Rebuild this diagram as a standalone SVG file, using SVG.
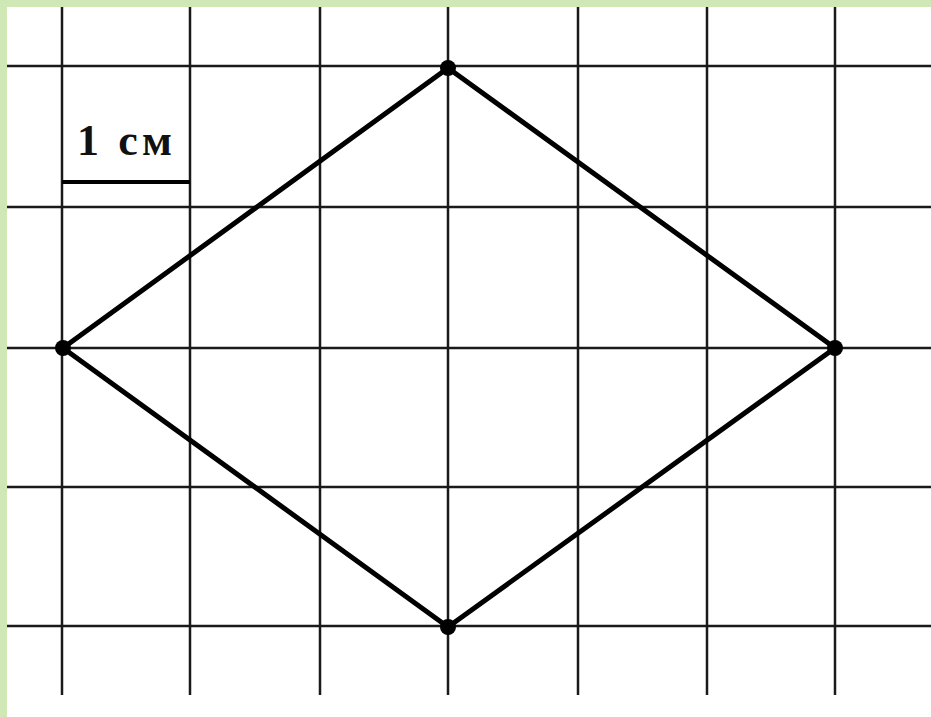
<svg xmlns="http://www.w3.org/2000/svg" width="931" height="717" viewBox="0 0 931 717">
<style>
.grid line{stroke:#1a1a1a;stroke-width:2.5}
.edge{stroke:#000;stroke-width:5;fill:none;stroke-linejoin:round}
.pt{fill:#000}
.lbl{font-family:"Liberation Serif","Times New Roman",serif;font-weight:bold;font-size:44px;fill:#111}
</style>
<rect x="0" y="0" width="931" height="717" fill="#cfe8b6"/>
<rect x="7" y="7" width="924" height="710" fill="#fff"/>
<g id="grid" class="grid">
<line x1="7" y1="66" x2="931" y2="66"/>
<line x1="7" y1="207" x2="931" y2="207"/>
<line x1="7" y1="348" x2="931" y2="348"/>
<line x1="7" y1="487" x2="931" y2="487"/>
<line x1="7" y1="626" x2="931" y2="626"/>
<line x1="62" y1="7" x2="62" y2="695"/>
<line x1="190" y1="7" x2="190" y2="695"/>
<line x1="320" y1="7" x2="320" y2="695"/>
<line x1="448" y1="7" x2="448" y2="695"/>
<line x1="578" y1="7" x2="578" y2="695"/>
<line x1="707" y1="7" x2="707" y2="695"/>
<line x1="835" y1="7" x2="835" y2="695"/>
</g>
<g id="scale">
<line x1="62" y1="182" x2="190" y2="182" stroke="#000" stroke-width="4"/>
<text class="lbl" x="77" y="155" textLength="95" lengthAdjust="spacing">1 см</text>
</g>
<g id="connectors">
<polygon class="edge" points="448,68 835,348 448,627 63,348"/>
</g>
<g id="A"><circle class="pt" cx="448" cy="68" r="8"/></g>
<g id="B"><circle class="pt" cx="835" cy="348" r="8"/></g>
<g id="C"><circle class="pt" cx="448" cy="627" r="8"/></g>
<g id="D"><circle class="pt" cx="63" cy="348" r="8"/></g>
</svg>
